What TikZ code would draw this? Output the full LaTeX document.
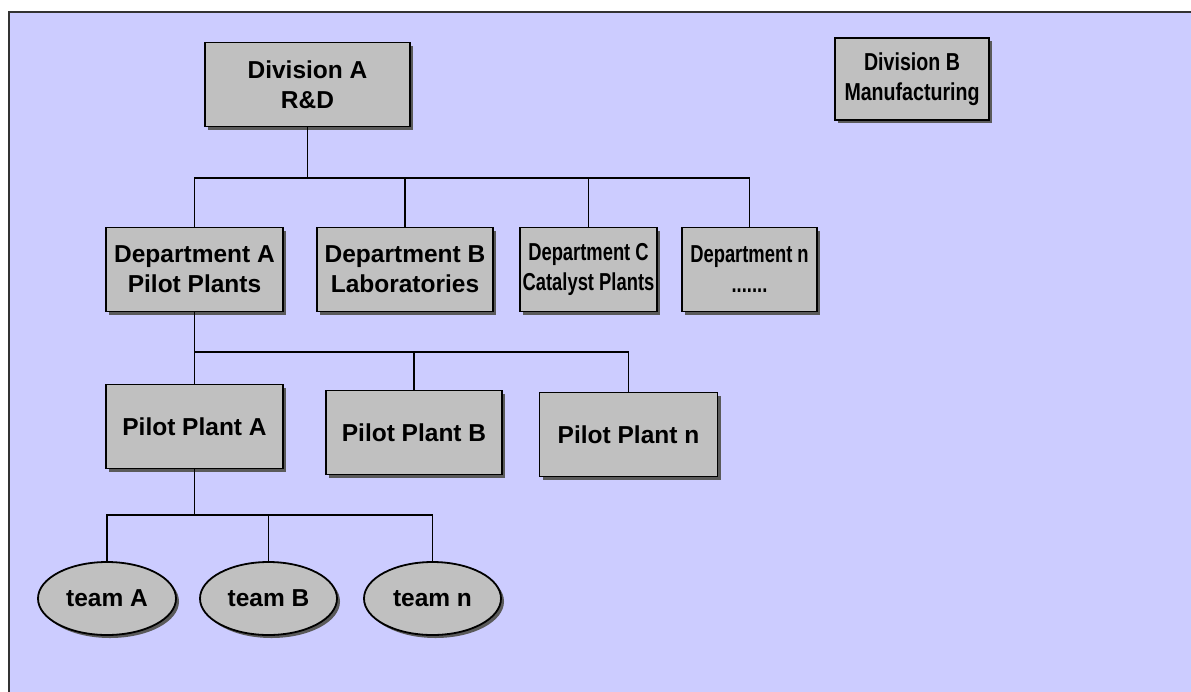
\documentclass[tikz,border=0pt]{standalone}
\usepackage{fontspec}
\usepackage{graphicx}
\setmainfont{Liberation Sans}
\usetikzlibrary{shapes.geometric, shadows}

\definecolor{lavender}{HTML}{CCCCFF}
\definecolor{unitgray}{HTML}{C0C0C0}
\definecolor{shadowgray}{HTML}{5A5A5A}
\newcommand{\narrowtext}[1]{\scalebox{0.75}[1]{#1}}

\begin{document}
\begin{tikzpicture}[x = 1pt, y = -1pt, % one unit = one pixel
                semithick % line style
            ]

            \tikzset{unit/.style = {draw = black, line width = 1.8pt,
            fill = unitgray, rectangle, minimum height = 84pt, inner sep = 2pt,
            align = center, font = \bfseries\fontsize{24.5}{30}\selectfont,
            drop shadow = {shadow xshift = 3pt, shadow yshift = -3pt,
            fill = shadowgray, opacity = 1}},
            team/.style = {unit, ellipse, minimum width = 138pt,
            minimum height = 73pt, inner sep = 0pt},
            link/.style = {draw = black, line width = 1.7pt}}

            % page and frame
            \useasboundingbox (0,0) rectangle (1191,691);
            \fill[white] (0,0) rectangle (1191,691);
            \draw[fill = lavender, draw = black!80, line width = 2.2pt]
            (9,12) rectangle (1200,700);

            \node[unit, minimum width = 205pt] (divA) at (307.5,84.5)
            {Division A\\R\&D};
            \node[unit, minimum width = 154pt, minimum height = 82pt] (divB)
            at (912,79) {\scalebox{0.8}[1]{Division B}\\
            \scalebox{0.8}[1]{Manufacturing}};

            \node[unit, minimum width = 177pt] (depA) at (194.5,269.5)
            {Department A\\Pilot Plants};
            \node[unit, minimum width = 176pt] (depB) [right of = depA,
            node distance = 210.5pt] {Department B\\Laboratories};
            \node[unit, minimum width = 137pt] (depC) [right of = depB,
            node distance = 183.5pt] {\narrowtext{Department C}\\
            \narrowtext{Catalyst Plants}};
            \node[unit, minimum width = 135pt] (depN) [right of = depC,
            node distance = 161pt] {\narrowtext{Department n}\\
            \narrowtext{.......}};

            \node[unit, minimum width = 177pt] (pilA) [below of = depA,
            node distance = 157pt] {Pilot Plant A};
            \node[unit, minimum width = 176pt] (pilB) at (414,432.5)
            {Pilot Plant B};
            \node[unit, minimum width = 178pt] (pilN) at (628.5,434.5)
            {Pilot Plant n};

            \node[team] (teamA) at (107,598.5) {team A};
            \node[team, minimum width = 137pt] (teamB) [right of = teamA,
            node distance = 161.5pt] {team B};
            \node[team, minimum width = 137pt] (teamN) [right of = teamB,
            node distance = 164pt] {team n};

            \coordinate (bus1) at (307.5,178);
            \coordinate (bus2) at (194.5,352);
            \coordinate (bus3) at (194.5,515);

            \foreach \n in {depA, depB, depC, depN}
            \path[link] (divA.south) -- (bus1) -| (\n.north);
            \foreach \n in {pilA, pilB, pilN}
            \path[link] (depA.south) -- (bus2) -| (\n.north);
            \foreach \n in {teamA, teamB, teamN}
            \path[link] (pilA.south) -- (bus3) -| (\n.north);
        \end{tikzpicture}
\end{document}
